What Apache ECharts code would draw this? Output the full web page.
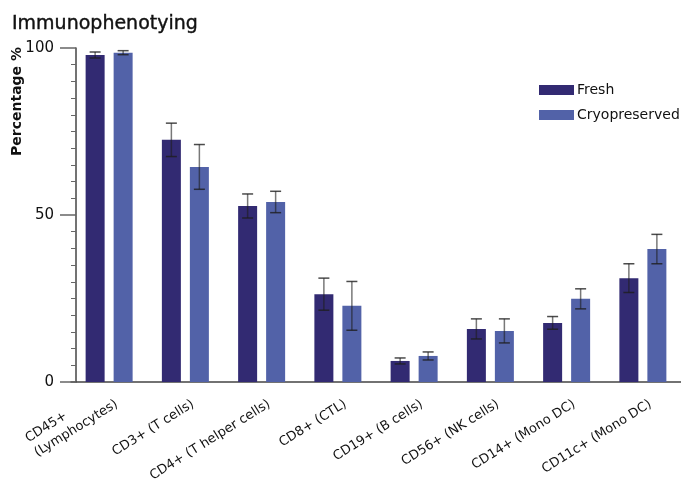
<!DOCTYPE html>
<html>
<head>
<meta charset="utf-8">
<script src="https://cdn.jsdelivr.net/npm/echarts@6/dist/echarts.min.js"></script>
<style>html,body{margin:0;padding:0;background:#fff}#c{width:681px;height:481px}</style>
</head>
<body>
<div id="c"></div>
<script>
const categories = ['CD45+\n(Lymphocytes)', 'CD3+ (T cells)', 'CD4+ (T helper cells)', 'CD8+ (CTL)', 'CD19+ (B cells)', 'CD56+ (NK cells)', 'CD14+ (Mono DC)', 'CD11c+ (Mono DC)'];
const freshValues = [97.9, 72.5, 52.7, 26.3, 6.3, 15.9, 17.7, 31.1];
const freshErrors = [0.9, 5.0, 3.6, 4.8, 0.9, 3.0, 1.9, 4.3];
const cryoValues = [98.6, 64.4, 53.9, 22.8, 7.8, 15.3, 24.9, 39.8];
const cryoErrors = [0.6, 6.7, 3.2, 7.3, 1.2, 3.6, 3.0, 4.4];
const yTicks = [0, 50, 100];

const FONT = '"DejaVu Sans", sans-serif';
const BAR_W = 19, BAR_GAP = 9, LINE_H = 17;

function errData(vals, errs) {
  return vals.map((v, i) => [i, v - errs[i], v + errs[i]]);
}
function errRender(side) {
  return function (params, api) {
    const i = api.value(0);
    const lo = api.coord([i, api.value(1)]);
    const hi = api.coord([i, api.value(2)]);
    const x = lo[0] + side * (BAR_W + BAR_GAP) / 2;
    const cap = 5.5;
    return {
      type: 'group',
      children: [
        { type: 'line', shape: { x1: x, y1: hi[1], x2: x, y2: lo[1] }, style: { stroke: 'rgba(30,30,30,0.6)', lineWidth: 1.5 } },
        { type: 'line', shape: { x1: x - cap, y1: hi[1], x2: x + cap, y2: hi[1] }, style: { stroke: 'rgba(30,30,30,0.8)', lineWidth: 1.5 } },
        { type: 'line', shape: { x1: x - cap, y1: lo[1], x2: x + cap, y2: lo[1] }, style: { stroke: 'rgba(30,30,30,0.8)', lineWidth: 1.5 } }
      ]
    };
  };
}

// multi-line labels: keep the last line where a single-line label would sit
const xData = categories.map(c => {
  const extra = c.split('\n').length - 1;
  return extra > 0
    ? { value: c, textStyle: { padding: [0, -9, LINE_H * extra, 0] } }
    : c;
});

const chart = echarts.init(document.getElementById('c'), null, { renderer: 'canvas' });
chart.setOption({
  animation: false,
  backgroundColor: '#fff',
  title: {
    text: 'Immunophenotying', left: 7, top: 10,
    textStyle: { fontFamily: FONT, fontSize: 19, fontWeight: 'normal', color: '#111', textBorderColor: '#111', textBorderWidth: 0.4 }
  },
  graphic: [{
    type: 'text', x: 10, y: 47, rotation: Math.PI / 2,
    style: { text: 'Percentage %', fontFamily: FONT, fontSize: 14, fontWeight: 'bold', fill: '#111', align: 'right', verticalAlign: 'top' }
  }],
  legend: {
    orient: 'vertical', left: 539, top: 83, itemWidth: 35, itemHeight: 10, itemGap: 11, padding: 0,
    icon: 'rect',
    data: ['Fresh', 'Cryopreserved'],
    textStyle: { fontFamily: FONT, fontSize: 14, color: '#111', padding: [0, 0, 0, -2] }
  },
  grid: { left: 71, right: 0, top: 48, bottom: 99, containLabel: false, outerBoundsMode: 'none' },
  xAxis: {
    type: 'category', data: xData,
    axisLine: { lineStyle: { color: '#444', width: 1.5 } },
    axisTick: { alignWithLabel: true, length: 9, lineStyle: { color: '#666', width: 1.5 } },
    axisLabel: {
      interval: 0, rotate: 32, margin: 26, color: '#111', fontFamily: FONT, fontSize: 13,
      padding: [0, -9, 0, 0], lineHeight: LINE_H,
      formatter: v => v.split('\n').map(s => '{l|' + s + '}').join('\n'),
      rich: { l: { align: 'left', fontFamily: FONT, fontSize: 13, color: '#111', lineHeight: LINE_H } }
    }
  },
  yAxis: {
    type: 'value', min: yTicks[0], max: yTicks[yTicks.length - 1], interval: 50, offset: -5,
    axisLine: { show: true, lineStyle: { color: '#444', width: 1.5 } },
    axisTick: { show: true, length: 16, lineStyle: { color: '#666', width: 1.5 } },
    minorTick: { show: true, splitNumber: 10, length: 5, lineStyle: { color: '#666', width: 1 } },
    splitLine: { show: false },
    axisLabel: { margin: 22, color: '#111', fontFamily: FONT, fontSize: 15 }
  },
  series: [
    { name: 'Fresh', type: 'bar', data: freshValues, barWidth: BAR_W, barGap: (BAR_GAP / BAR_W * 100) + '%', itemStyle: { color: '#322a72' } },
    { name: 'Cryopreserved', type: 'bar', data: cryoValues, barWidth: BAR_W, itemStyle: { color: '#5262a8' } },
    { type: 'custom', renderItem: errRender(-1), data: errData(freshValues, freshErrors), z: 5, silent: true },
    { type: 'custom', renderItem: errRender(1), data: errData(cryoValues, cryoErrors), z: 5, silent: true }
  ]
});
</script>
</body>
</html>
